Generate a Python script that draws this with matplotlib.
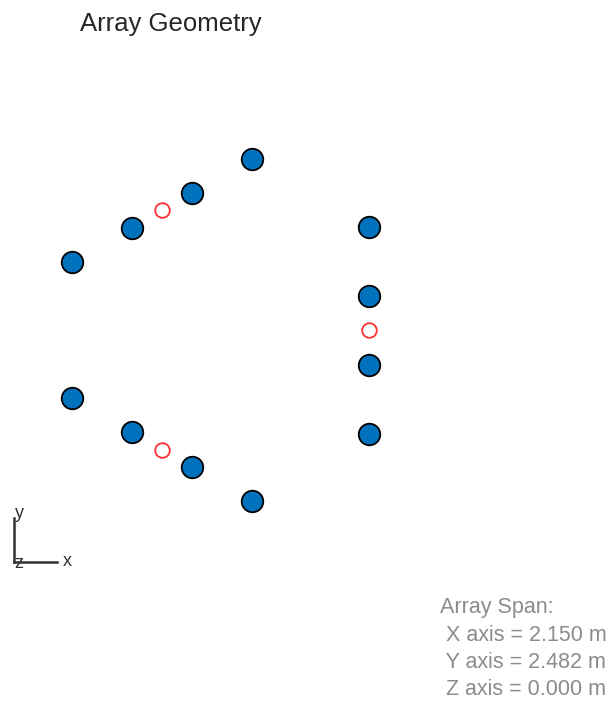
import numpy as np
import matplotlib.pyplot as plt
from matplotlib.lines import Line2D

# === DATA (metres) ===
elem_x = [1.0, 1.0, 1.0, 1.0,
          0.150, -0.283, -0.717, -1.150,
          0.150, -0.283, -0.717, -1.150]
elem_y = [0.75, 0.25, -0.25, -0.75,
          1.241, 0.991, 0.741, 0.491,
          -1.241, -0.991, -0.741, -0.491]
center_x = [1.0, -0.5, -0.5]
center_y = [0.0, 0.866, -0.866]
span_lines = ["Array Span:", " X axis = 2.150 m", " Y axis = 2.482 m", " Z axis = 0.000 m"]

W, H = 611, 702
fig = plt.figure(figsize=(W / 100, H / 100), dpi=100)
plt.rcParams['font.family'] = ['Liberation Sans', 'DejaVu Sans']

# axes fills the figure, 138 px per metre, origin at pixel (231, 330)
ax = fig.add_axes([0, 0, 1, 1])
ax.set_xlim(-231 / 138, (W - 231) / 138)
ax.set_ylim(-(H - 330) / 138, 330 / 138)
ax.axis('off')

ax.plot(elem_x, elem_y, 'o', ms=15.5, mfc='#0072BD', mec='black', mew=1.3)
ax.plot(center_x, center_y, 'o', ms=10.5, mfc='none', mec='#FF3030', mew=1.3)

# title
fig.text(171 / W, 1 - 24 / H, "Array Geometry", ha='center', va='center',
         fontsize=18.5, color='#262626')

# axis triad
col = '#333333'
fig.add_artist(Line2D([14 / W, 14 / W], [1 - 518 / H, 1 - 562 / H], color=col, lw=1.8))
fig.add_artist(Line2D([14 / W, 57 / W], [1 - 562 / H, 1 - 562 / H], color=col, lw=1.8))
fig.text(19 / W, 1 - 513 / H, "y", ha='center', va='center', fontsize=13, color=col)
fig.text(67 / W, 1 - 562 / H, "x", ha='center', va='center', fontsize=13, color=col)
fig.text(19 / W, 1 - 563 / H, "z", ha='center', va='center', fontsize=13, color=col)

# span text
for i, s in enumerate(span_lines):
    fig.text(440 / W, 1 - (608 + 27.3 * i) / H, s, ha='left', va='center',
             fontsize=15.5, color='#8c8c8c')

fig.savefig("out.png", dpi=100)
